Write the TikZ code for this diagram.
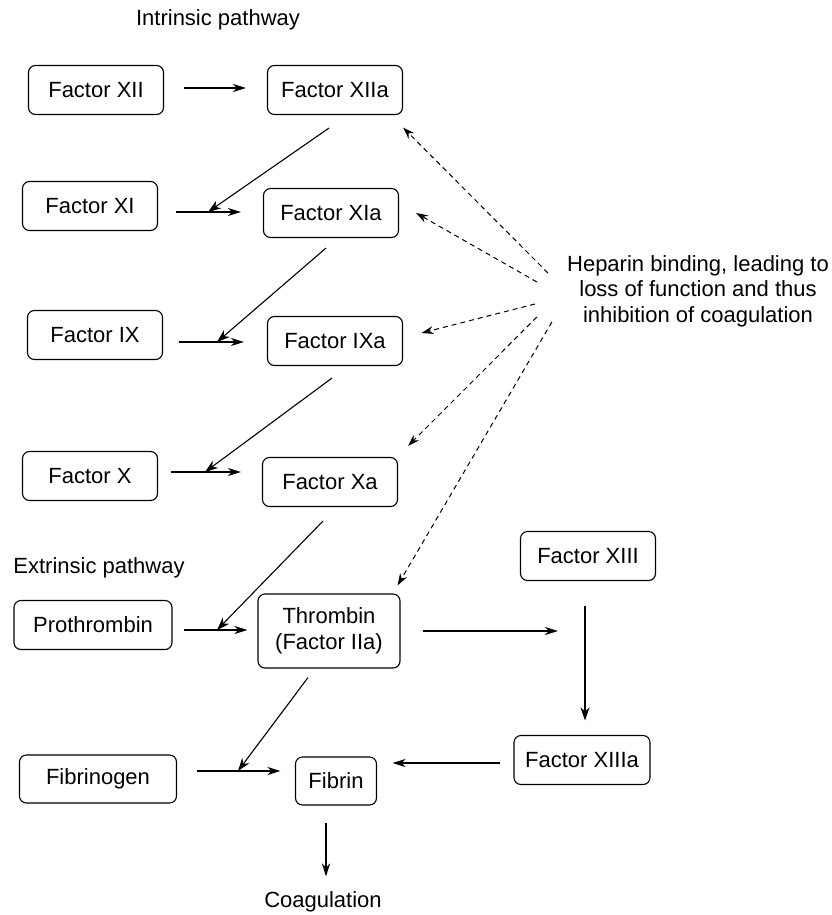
\documentclass[tikz,border=0pt]{standalone}
\usepackage{fontspec}
\setmainfont{Liberation Sans}
\usetikzlibrary{arrows.meta}

\begin{document}
\begin{tikzpicture}[
    x=1pt, y=-1pt,
    every node/.style={font=\fontsize{22}{25.5}\selectfont},
    factor/.style={rounded corners=7pt, draw, line width=1.1pt,
                   minimum width=135pt, minimum height=49pt, inner sep=0pt,
                   align=center},
    act/.style={line width=2pt, -{Stealth[length=13pt, width=8pt, inset=4pt]}},
    feed/.style={line width=1.1pt, -{Stealth[length=13pt, width=9pt, inset=4pt]}},
    heplink/.style={line width=1pt, dash pattern=on 5pt off 4pt,
                    -{Stealth[length=12pt, width=8pt, inset=4pt]}},
    lbl/.style={inner sep=0pt, align=center},
]
\useasboundingbox (0,0) rectangle (832,915);

% -- Intrinsic pathway --
\node[lbl] (intr) at (218,20) {Intrinsic pathway};
\node[factor] (f12)  at (96,90)   {Factor XII};
\node[factor] (f12a) at (335,90)  {Factor XIIa};
\node[factor] (f11)  at (90,206)  {Factor XI};
\node[factor] (f11a) at (331,213) {Factor XIa};
\node[factor] (f9)   at (95,335)  {Factor IX};
\node[factor] (f9a)  at (335,341) {Factor IXa};
\node[factor] (f10)  at (90,476)  {Factor X};
\node[factor] (f10a) at (330,482) {Factor Xa};

% -- Extrinsic pathway / common --
\node[lbl] (extr) at (99,568) {Extrinsic pathway};
\node[factor, minimum width=158pt] (proth) at (93,625) {Prothrombin};
\node[factor, minimum width=142pt, minimum height=74pt] (thromb) at (329,631)
    {Thrombin\\(Factor IIa)};
\node[factor] (f13)  at (588,556) {Factor XIII};
\node[factor, minimum width=136pt] (f13a) at (582,760) {Factor XIIIa};
\node[factor, minimum width=157pt, minimum height=48pt] (fibgen) at (98,779) {Fibrinogen};
\node[factor, minimum width=81pt, minimum height=48pt] (fibrin) at (336,781) {Fibrin};
\node[lbl] (coag) at (323,902) {Coagulation};

% -- Heparin --
\node[lbl] (hep) at (698,291)
    {Heparin binding, leading to\\loss of function and thus\\inhibition of coagulation};

% -- junctions on the activation arrows --
\coordinate (j11) at (208,212);
\coordinate (j9)  at (217,342);
\coordinate (j10) at (205,472);
\coordinate (jpr) at (217,630);
\coordinate (jfb) at (238,771);
\coordinate (t13) at (558,631);

% -- Activation arrows --
\draw[act] ([xshift=19.5]f12.east |- 0,88) -- ([xshift=-21]f12a.west |- 0,88);
\draw[act] ([xshift=17.5]f11.east |- j11) -- ([xshift=-22]f11a.west |- j11);
\draw[act] ([xshift=15.5]f9.east |- j9) -- ([xshift=-23]f9a.west |- j9);
\draw[act] ([xshift=12.5]f10.east |- j10) -- ([xshift=-21]f10a.west |- j10);
\draw[act] ([xshift=11]proth.east |- jpr) -- ([xshift=-10]thromb.west |- jpr);
\draw[act] ([xshift=19.5]fibgen.east |- jfb) -- ([xshift=-14.5]fibrin.west |- jfb);
\draw[act] ([xshift=22]thromb.east) -- (t13);
\draw[feed, line width=1.4pt] ([xshift=-3,yshift=-24.5]f13.south) -- ([xshift=3,yshift=14.5]f13a.north);
\draw[act] ([xshift=-13]f13a.west |- 0,763) -- ([xshift=15.5]fibrin.east |- 0,763);
\draw[act] ([xshift=-10,yshift=-17]fibrin.south) -- ([xshift=3,yshift=15]coag.north);

% -- Feed-forward arrows --
\draw[feed] ([xshift=-6,yshift=-13]f12a.south) -- (j11);
\draw[feed] ([xshift=-5,yshift=-10]f11a.south) -- (j9);
\draw[feed] ([xshift=-3,yshift=-12]f9a.south) -- (j10);
\draw[feed] ([xshift=-7,yshift=-14]f10a.south) -- (jpr);
\draw[feed] ([xshift=-21,yshift=-9]thromb.south) -- (jfb);

% -- Heparin binding --
\draw[heplink] ([xshift=-19,yshift=18]hep.west) -- ([yshift=-12.5]f12a.south east);
\draw[heplink] ([xshift=-30,yshift=9]hep.west) -- ([xshift=17]f11a.east);
\draw[heplink] ([xshift=-32,yshift=-13]hep.west) -- ([xshift=18.5,yshift=8]f9a.east);
\draw[heplink] ([xshift=-30,yshift=-26]hep.west) -- ([xshift=10,yshift=11]f10a.north east);
\draw[heplink] ([xshift=-15,yshift=-31]hep.west) -- ([xshift=-3,yshift=8]thromb.north east);
\end{tikzpicture}
\end{document}
